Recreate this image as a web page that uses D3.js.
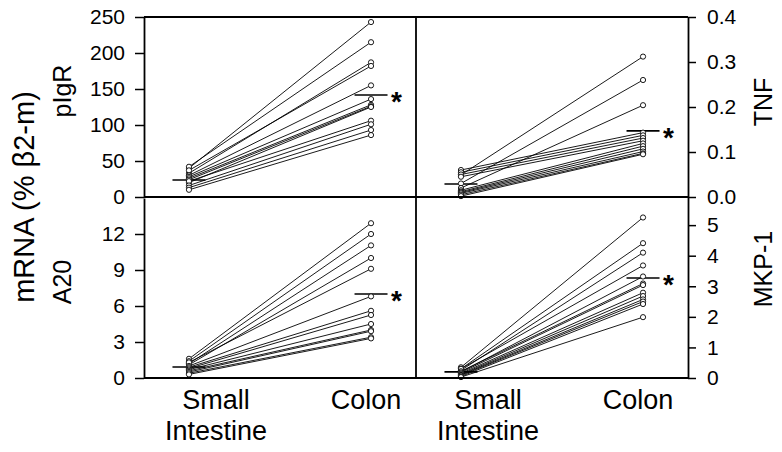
<!DOCTYPE html>
<html>
<head>
<meta charset="utf-8">
<script src="https://cdnjs.cloudflare.com/ajax/libs/d3/7.8.5/d3.min.js"></script>
<style>
body { margin: 0; background: #fff; }
svg text { font-family: "Liberation Sans", Arial, sans-serif; fill: #000; }
</style>
</head>
<body>
<svg id="chart" width="782" height="452"></svg>
<script>
// the two tissues on every panel
var groups = ["Small Intestine", "Colon"];

// pIgR, one value per animal (same order in both arrays)
var pigrSmall = [40, 42, 33, 37, 30, 28, 26, 24, 20, 22, 16, 13, 10];
var pigrColon = [243, 215, 187, 182, 155, 136, 128, 126, 125, 106, 101, 93, 86];
var pigrMeans = [23.6, 141.7];
var pigrTicks = [0, 50, 100, 150, 200, 250];

// TNF
var tnfSmall = [0.049, 0.03, 0.02, 0.06, 0.055, 0.05, 0.045, 0.015, 0.012, 0.01, 0.008, 0.005, 0.002];
var tnfColon = [0.312, 0.26, 0.204, 0.143, 0.137, 0.131, 0.125, 0.119, 0.113, 0.107, 0.101, 0.097, 0.095];
var tnfMeans = [0.029, 0.147];
var tnfTicks = [0, 0.1, 0.2, 0.3, 0.4];

// A20
var a20Small = [1.6, 1.4, 1.2, 1.1, 1.3, 1.0, 0.9, 0.8, 0.7, 0.6, 0.5, 0.4, 0.3];
var a20Colon = [12.9, 12.0, 11.05, 10.0, 9.1, 6.8, 5.6, 5.25, 4.5, 4.0, 3.9, 3.4, 3.3];
var a20Means = [0.92, 7.0];
var a20Ticks = [0, 3, 6, 9, 12];

// MKP-1
var mkpSmall = [0.35, 0.3, 0.25, 0.3, 0.2, 0.22, 0.18, 0.15, 0.12, 0.1, 0.08, 0.05, 0.03];
var mkpColon = [5.25, 4.41, 4.10, 3.68, 3.32, 3.09, 3.04, 2.79, 2.68, 2.57, 2.50, 2.42, 1.99];
var mkpMeans = [0.2, 3.27];
var mkpTicks = [0, 1, 2, 3, 4, 5];

var svg = d3.select("svg#chart");

// frame edges
var frame = {left: 144, mid: 416, right: 688, top: 17, split: 197, bottom: 378};

var xLeft = d3.scalePoint().domain(groups).range([frame.left, frame.mid]).padding(0.247);
var xRight = d3.scalePoint().domain(groups).range([frame.mid, frame.right]).padding(0.247);

var yPigr = d3.scaleLinear().domain([0, 250]).range([frame.split, frame.top]);
var yTnf = d3.scaleLinear().domain([0, 0.4]).range([frame.split, frame.top]);
var yA20 = d3.scaleLinear().domain([0, 15]).range([frame.bottom, frame.split + 1]);
var yMkp = d3.scaleLinear().domain([0, 5.92]).range([frame.bottom, frame.split]);

var panels = [
  {small: pigrSmall, colon: pigrColon, means: pigrMeans, x: xLeft, y: yPigr},
  {small: tnfSmall, colon: tnfColon, means: tnfMeans, x: xRight, y: yTnf},
  {small: a20Small, colon: a20Colon, means: a20Means, x: xLeft, y: yA20},
  {small: mkpSmall, colon: mkpColon, means: mkpMeans, x: xRight, y: yMkp}
];

function drawPanel(p) {
  var g = svg.append("g");
  var pairs = p.small.map(function(v, i) { return [v, p.colon[i]]; });

  // one line per animal, small intestine -> colon
  g.selectAll("line.pair")
    .data(pairs)
    .enter().append("line")
      .attr("class", "pair")
      .attr("x1", p.x(groups[0]))
      .attr("x2", p.x(groups[1]))
      .attr("y1", function(d) { return p.y(d[0]); })
      .attr("y2", function(d) { return p.y(d[1]); })
      .attr("stroke", "#000")
      .attr("stroke-width", 0.9);

  // mean bars
  g.selectAll("line.mean")
    .data(p.means)
    .enter().append("line")
      .attr("class", "mean")
      .attr("x1", function(d, i) { return p.x(groups[i]) - 16.5; })
      .attr("x2", function(d, i) { return p.x(groups[i]) + 16.5; })
      .attr("y1", function(d) { return p.y(d); })
      .attr("y2", function(d) { return p.y(d); })
      .attr("stroke", "#000")
      .attr("stroke-width", 1.6);

  // open circles for each group
  groups.forEach(function(grp, gi) {
    var vals = gi == 0 ? p.small : p.colon;
    g.selectAll("circle.g" + gi)
      .data(vals)
      .enter().append("circle")
        .attr("class", "g" + gi)
        .attr("cx", p.x(grp))
        .attr("cy", function(d) { return p.y(d); })
        .attr("r", 2.6)
        .attr("fill", "#fff")
        .attr("stroke", "#000")
        .attr("stroke-width", 0.9);
  });

  // significance star next to the colon mean
  g.append("text")
    .attr("x", p.x(groups[1]) + 20)
    .attr("y", p.y(p.means[1]) + 16)
    .attr("font-size", 28)
    .attr("font-weight", "bold")
    .text("*");
}

panels.forEach(drawPanel);

// axes
function styleAxis(sel) {
  sel.selectAll("text").attr("font-size", 21);
  sel.selectAll("line").attr("stroke-width", 1.5);
  sel.select(".domain").attr("stroke-width", 1.8);
}

svg.append("g")
    .attr("transform", "translate(" + frame.left + ",0)")
    .call(d3.axisLeft(yPigr).tickValues(pigrTicks).tickFormat(d3.format("d")).tickSize(9).tickSizeOuter(0).tickPadding(10))
    .call(styleAxis);

svg.append("g")
    .attr("transform", "translate(" + frame.left + ",0)")
    .call(d3.axisLeft(yA20).tickValues(a20Ticks).tickFormat(d3.format("d")).tickSize(9).tickSizeOuter(0).tickPadding(10))
    .call(styleAxis);

svg.append("g")
    .attr("transform", "translate(" + frame.right + ",0)")
    .call(d3.axisRight(yTnf).tickValues(tnfTicks).tickFormat(d3.format(".1f")).tickSize(8).tickSizeOuter(0).tickPadding(11))
    .call(styleAxis);

svg.append("g")
    .attr("transform", "translate(" + frame.right + ",0)")
    .call(d3.axisRight(yMkp).tickValues(mkpTicks).tickFormat(d3.format("d")).tickSize(8).tickSizeOuter(0).tickPadding(11))
    .call(styleAxis);

// remaining frame lines
var frameLines = [
  [frame.left, frame.top, frame.right, frame.top],
  [frame.left, frame.split, frame.right, frame.split],
  [frame.left, frame.bottom, frame.right, frame.bottom],
  [frame.mid, frame.top, frame.mid, frame.bottom]
];
svg.selectAll("line.frame")
  .data(frameLines)
  .enter().append("line")
    .attr("class", "frame")
    .attr("x1", function(d) { return d[0]; })
    .attr("y1", function(d) { return d[1]; })
    .attr("x2", function(d) { return d[2]; })
    .attr("y2", function(d) { return d[3]; })
    .attr("stroke", "#000")
    .attr("stroke-width", 1.8);

// category labels under each panel
[xLeft, xRight].forEach(function(x) {
  var lab = svg.append("g").attr("font-size", 27).attr("text-anchor", "middle");
  lab.append("text").attr("x", x(groups[0]) + 27).attr("y", 409).text("Small");
  lab.append("text").attr("x", x(groups[0]) + 27).attr("y", 440).text("Intestine");
  lab.append("text").attr("x", x(groups[1]) - 5).attr("y", 409).text("Colon");
});

// rotated axis titles
function vtext(x, y, size, s) {
  svg.append("text")
    .attr("transform", "translate(" + x + "," + y + ") rotate(-90)")
    .attr("text-anchor", "middle")
    .attr("font-size", size)
    .text(s);
}
vtext(34, 197, 29, "mRNA (% \u03b22-m)");
vtext(71, 91, 25, "pIgR");
vtext(71, 282, 25, "A20");
vtext(772, 102, 25, "TNF");
vtext(772, 269, 25, "MKP-1");
</script>
</body>
</html>
